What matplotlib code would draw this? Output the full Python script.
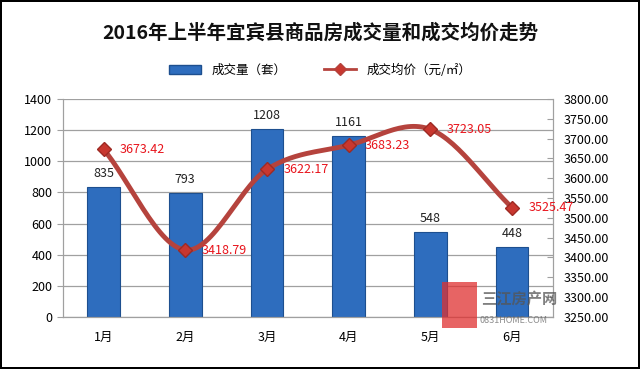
import numpy as np
import matplotlib.pyplot as plt
from matplotlib.lines import Line2D
from matplotlib.patches import Patch, Rectangle

plt.rcParams['font.family'] = ['Noto Sans CJK SC', 'DejaVu Sans']

months = ['1月', '2月', '3月', '4月', '5月', '6月']
volume = [835, 793, 1208, 1161, 548, 448]
price = [3673.42, 3418.79, 3622.17, 3683.23, 3723.05, 3525.47]
price_labels = ['3673.42', '3418.79', '3622.17', '3683.23', '3723.05', '3525.47']


def smooth(xs, ys, n=30):
    # Catmull-Rom curve through the points, like Excel's smoothed line
    xs = np.asarray(xs, float)
    ys = np.asarray(ys, float)
    px = np.concatenate([[2 * xs[0] - xs[1]], xs, [2 * xs[-1] - xs[-2]]])
    py = np.concatenate([[2 * ys[0] - ys[1]], ys, [2 * ys[-1] - ys[-2]]])
    outx, outy = [], []
    t = np.linspace(0, 1, n)
    for i in range(1, len(px) - 2):
        for p, out in ((px, outx), (py, outy)):
            p0, p1, p2, p3 = p[i - 1], p[i], p[i + 1], p[i + 2]
            out.extend(0.5 * (2 * p1 + (-p0 + p2) * t + (2 * p0 - 5 * p1 + 4 * p2 - p3) * t ** 2
                              + (-p0 + 3 * p1 - 3 * p2 + p3) * t ** 3))
    return outx, outy


fig = plt.figure(figsize=(6.4, 3.69), dpi=100)
fig.patch.set_edgecolor('black')
fig.patch.set_linewidth(1.5)
ax = fig.add_axes([0.098, 0.141, 0.766, 0.591])
x = np.arange(len(months))

ax.set_axisbelow(True)
ax.yaxis.grid(True, color='#A0A0A0', linewidth=0.9)
ax.bar(x, volume, width=0.4, color='#2E6DBE', edgecolor='#1D4F8F', linewidth=0.8)
for xi, v in zip(x, volume):
    ax.text(xi, v + 45, str(v), ha='center', va='bottom', fontsize=9, color='#222222')

ax.set_ylim(0, 1400)
ax.set_yticks(range(0, 1401, 200))
ax.set_xlim(-0.5, 5.5)
ax.set_xticks(x)
ax.set_xticklabels(months, fontsize=9)
ax.tick_params(axis='x', length=0, pad=10)
ax.tick_params(axis='y', labelsize=9, color='#A0A0A0', length=4)
ax.spines['top'].set_visible(False)
for s in ['left', 'bottom', 'right']:
    ax.spines[s].set_color('#A0A0A0')

ax2 = ax.twinx()
ax2.set_ylim(3250, 3800)
ax2.set_yticks(np.arange(3250, 3801, 50))
ax2.set_yticklabels([f'{v:.2f}' for v in np.arange(3250, 3801, 50)])
ax2.tick_params(axis='y', labelsize=9, direction='in', color='#A0A0A0', length=4, pad=8)
ax2.spines['top'].set_visible(False)
for s in ['left', 'bottom', 'right']:
    ax2.spines[s].set_color('#A0A0A0')

sx, sy = smooth(x, price)
ax2.plot(sx, sy, color='#B5433D', linewidth=3.5, solid_capstyle='round')
ax2.plot(x, price, linestyle='none', marker='D', markersize=7,
         color='#C8372F', markeredgecolor='#9E2A23')
for xi, p, lab in zip(x, price, price_labels):
    ax2.text(xi + 0.2, p, lab, ha='left', va='center', fontsize=9, color='#E8141C')

fig.text(0.5, 0.91, '2016年上半年宜宾县商品房成交量和成交均价走势', ha='center', va='center',
         fontsize=14, fontweight='bold', color='#111111')

handles = [Patch(facecolor='#2E6DBE', edgecolor='#1D4F8F'),
           Line2D([], [], color='#B5433D', lw=2, marker='D', markersize=6, markerfacecolor='#C8372F')]
fig.legend(handles, ['成交量（套）', '成交均价（元/㎡）'], loc='center', bbox_to_anchor=(0.5, 0.81),
           ncol=2, frameon=False, fontsize=9, handlelength=2.6, columnspacing=3)

# watermark
fig.patches.append(Rectangle((0.69, 0.11), 0.055, 0.125, transform=fig.transFigure,
                             facecolor='#E03030', alpha=0.75, zorder=5))
fig.text(0.752, 0.175, '三江房产网', fontsize=11, fontweight='bold', color='#555555', alpha=0.75, zorder=6)
fig.text(0.75, 0.125, '0831HOME.COM', fontsize=6.5, color='#666666', alpha=0.75, zorder=6)

fig.savefig('out.png', dpi=100)
